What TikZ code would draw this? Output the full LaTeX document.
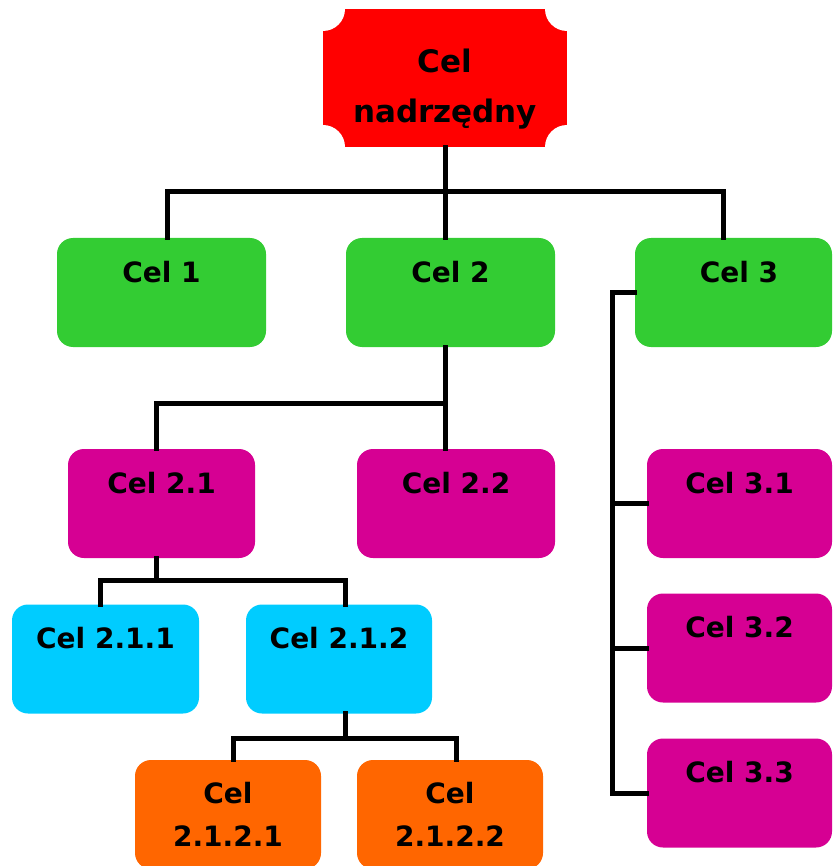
\documentclass[tikz,border=0pt]{standalone}
\usepackage{fontspec}
\setmainfont{DejaVu Sans}
\usetikzlibrary{calc}

\definecolor{topred}{RGB}{255,0,0}
\definecolor{lvlgreen}{RGB}{51,204,51}
\definecolor{lvlmagenta}{RGB}{214,0,147}
\definecolor{lvlcyan}{RGB}{0,204,255}
\definecolor{lvlorange}{RGB}{255,102,0}

\tikzset{
  goalfont/.style={font=\fontsize{28}{43}\selectfont\bfseries},
  goalbox/.style={goalfont, rounded corners=16pt, inner sep=0pt,
    text height=44pt, text depth=65pt, minimum width=#1},
  twolinebox/.style={goalfont, rounded corners=16pt, inner sep=0pt,
    align=center, minimum height=109pt, minimum width=#1},
  topbox/.style={fill=topred, inner sep=0pt, minimum width=244pt, minimum height=138pt,
    path picture={
      \fill[white] (path picture bounding box.north west) circle (22pt);
      \fill[white] (path picture bounding box.north east) circle (22pt);
      \fill[white] (path picture bounding box.south west) circle (22pt);
      \fill[white] (path picture bounding box.south east) circle (22pt);
    }},
  link/.style={line width=5pt, line join=miter, line cap=rect, black},
}

\begin{document}
\begin{tikzpicture}[x=1pt, y=-1pt]
\useasboundingbox (0,0) rectangle (833,866);

% top level
\node[topbox] (top) at (445,78) {};
\node[font=\fontsize{31}{50}\selectfont\bfseries, align=center] (toptext) at (445,89) {Cel\\nadrzędny};

% first level
\node[goalbox=209pt, fill=lvlgreen] (c1) at (161.5,292.5) {Cel 1};
\node[goalbox=209pt, fill=lvlgreen] (c2) at (450.5,292.5) {Cel 2};
\node[goalbox=197pt, fill=lvlgreen] (c3) at (733.5,292.5) {\hspace*{11pt}Cel 3};

% second level
\node[goalbox=187pt, fill=lvlmagenta] (c21) at (161.5,503.5) {Cel 2.1};
\node[goalbox=198pt, fill=lvlmagenta] (c22) at (456,503.5) {Cel 2.2};
\node[goalbox=185pt, fill=lvlmagenta] (c31) at (739.5,503.5) {Cel 3.1};
\node[goalbox=185pt, fill=lvlmagenta] (c32) at (739.5,648) {Cel 3.2};
\node[goalbox=185pt, fill=lvlmagenta] (c33) at (739.5,793) {Cel 3.3};

% third level
\node[goalbox=187pt, fill=lvlcyan] (c211) at (105.5,659) {Cel 2.1.1};
\node[goalbox=186pt, fill=lvlcyan] (c212) at (339,659) {Cel 2.1.2};

% fourth level
\node[twolinebox=186pt, fill=lvlorange] (c2121) at (228,814.5) {Cel\\2.1.2.1};
\node[twolinebox=186pt, fill=lvlorange] (c2122) at (450,814.5) {Cel\\2.1.2.2};

% bus junctions
\coordinate (b0) at (445,192);
\coordinate (b0l) at (167,192);
\coordinate (b0r) at (723,192);
\coordinate (b2) at (445,403);
\coordinate (b2l) at (156,403);
\coordinate (b21) at (156,580);
\coordinate (b21r) at (345,580);
\coordinate (b21l) at (100,580);
\coordinate (b212) at (345,738);
\coordinate (b212l) at (233,738);
\coordinate (b212r) at (456,738);
\coordinate (b3) at (612,292.5);

% connectors
\draw[link] (top.south) -- (b0);
\draw[link] (b0l |- c1.north) -- (b0l) -- (b0r) -- (b0r |- c3.north);
\draw[link] (b0) -- (b0 |- c2.north);

\draw[link] (b2 |- c2.south) -- (b2 |- c22.north);
\draw[link] (b2l |- c21.north) -- (b2l) -- (b2);

\draw[link] (b21 |- c21.south) -- (b21);
\draw[link] (b21l |- c211.north) -- (b21l) -- (b21r) -- (b21r |- c212.north);

\draw[link] (b212 |- c212.south) -- (b212);
\draw[link] (b212l |- c2121.north) -- (b212l) -- (b212r) -- (b212r |- c2122.north);

\draw[link] (c3.west) -- (b3) -- (b3 |- c33.west) -- (c33.west);
\draw[link] (b3 |- c31.west) -- (c31.west);
\draw[link] (b3 |- c32.west) -- (c32.west);
\end{tikzpicture}
\end{document}
